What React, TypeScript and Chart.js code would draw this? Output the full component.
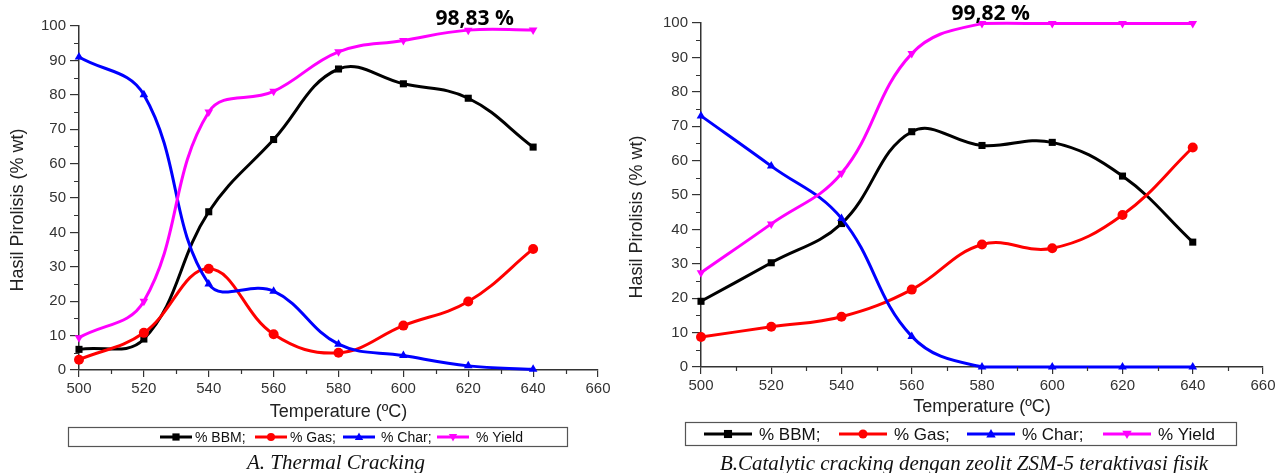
import React, { useEffect, useRef } from "react";
import { Chart, registerables } from "chart.js";

Chart.register(...registerables);

// ---------- data ----------
const temperatures = [500, 520, 540, 560, 580, 600, 620, 640];

const thermalBBM = [6, 9, 46, 67, 87.5, 83.2, 79, 64.8];
const thermalGas = [3, 10.8, 29.4, 10.4, 5, 12.9, 19.9, 35.2];
const thermalChar = [91, 80, 25, 22.9, 7.5, 4.2, 1.2, 0.2];
const thermalYield = [9.4, 20, 75, 81, 92.5, 95.8, 98.8, 98.83];

const catalyticBBM = [19.1, 30.3, 41.7, 68.4, 64.4, 65.3, 55.5, 36.3];
const catalyticGas = [8.7, 11.7, 14.6, 22.5, 35.6, 34.5, 44.2, 63.8];
const catalyticChar = [73, 58.4, 43.2, 8.9, 0, 0, 0, 0];
const catalyticYield = [27.4, 41.6, 56.3, 91.1, 99.82, 99.82, 99.82, 99.82];

const seriesNames = ["% BBM;", "% Gas;", "% Char;", "% Yield"];
const seriesColors = ["#000000", "#ff0000", "#0000ff", "#ff00ff"];
const seriesMarkers = ["rect", "circle", "triangle", "triangle"];
const markerRotations = [0, 0, 0, 180];

const xMin = 500;
const xMax = 660;
const xStep = 20;
const yMin = 0;
const yMax = 100;
const yStep = 10;

const xTitle = "Temperature (ºC)";
const yTitle = "Hasil Pirolisis (% wt)";
const thermalNote = "98,83 %";
const catalyticNote = "99,82 %";
const thermalCaption = "A. Thermal Cracking";
const catalyticCaption = "B.Catalytic cracking dengan zeolit ZSM-5 teraktivasi fisik";

// ---------- styles ----------
const SANS = "'Liberation Sans', Arial, sans-serif";
const AXIS = "#333333";

function drawMarker(ctx: CanvasRenderingContext2D, kind: string, rot: number, x: number, y: number, r: number, color: string) {
  ctx.save();
  ctx.fillStyle = color;
  ctx.translate(x, y);
  ctx.rotate((rot * Math.PI) / 180);
  ctx.beginPath();
  if (kind === "rect") {
    const s = r * 0.9;
    ctx.rect(-s, -s, 2 * s, 2 * s);
  } else if (kind === "circle") {
    ctx.arc(0, 0, r, 0, Math.PI * 2);
  } else {
    ctx.moveTo(0, -r * 1.1);
    ctx.lineTo(r * 1.05, r * 0.75);
    ctx.lineTo(-r * 1.05, r * 0.75);
    ctx.closePath();
  }
  ctx.fill();
  ctx.restore();
}

const decorPlugin = {
  id: "decor",
  afterDraw(chart: any, _args: any, opts: any) {
    const ctx: CanvasRenderingContext2D = chart.ctx;
    const xs = chart.scales.x;
    const ys = chart.scales.y;
    const area = chart.chartArea;
    ctx.save();
    // minor ticks
    ctx.strokeStyle = AXIS;
    ctx.lineWidth = 1.2;
    ctx.beginPath();
    for (let v = xMin + xStep / 2; v < xMax; v += xStep) {
      const px = Math.round(xs.getPixelForValue(v)) + 0.5;
      ctx.moveTo(px, area.bottom);
      ctx.lineTo(px, area.bottom + 4);
    }
    for (let v = yMin + yStep / 2; v < yMax; v += yStep) {
      const py = Math.round(ys.getPixelForValue(v)) + 0.5;
      ctx.moveTo(area.left, py);
      ctx.lineTo(area.left - 5, py);
    }
    ctx.stroke();

    // y axis title
    ctx.save();
    ctx.fillStyle = "#222";
    ctx.font = `${opts.yTitleSize}px ${SANS}`;
    ctx.textAlign = "center";
    ctx.textBaseline = "middle";
    ctx.translate(opts.yTitleX, opts.yTitleY);
    ctx.rotate(-Math.PI / 2);
    ctx.fillText(yTitle, 0, 0);
    ctx.restore();

    // annotation
    ctx.fillStyle = "#000";
    ctx.font = `bold ${opts.noteSize}px 'Open Sans', sans-serif`;
    ctx.textAlign = "center";
    ctx.textBaseline = "middle";
    ctx.fillText(opts.note, xs.getPixelForValue(opts.noteX), opts.noteY);

    // legend box
    const lg = opts.legend;
    ctx.strokeStyle = "#555";
    ctx.lineWidth = 1.2;
    ctx.strokeRect(lg.x + 0.5, lg.y + 0.5, lg.w, lg.h);
    const cy = lg.y + lg.h / 2 + 0.5;
    ctx.font = `${lg.size}px ${SANS}`;
    ctx.textAlign = "left";
    ctx.textBaseline = "middle";
    for (let i = 0; i < seriesNames.length; i++) {
      const e = lg.entries[i];
      ctx.strokeStyle = seriesColors[i];
      ctx.lineWidth = lg.lineWidth;
      ctx.beginPath();
      ctx.moveTo(e[0], cy);
      ctx.lineTo(e[0] + lg.lineLen, cy);
      ctx.stroke();
      drawMarker(ctx, seriesMarkers[i], markerRotations[i], e[0] + lg.lineLen / 2, cy, lg.marker, seriesColors[i]);
      ctx.fillStyle = "#111";
      ctx.fillText(seriesNames[i], e[1], cy + 1);
    }
    ctx.restore();
  },
};

function makeConfig(series: number[][], p: any) {
  return {
    type: "line",
    data: {
      datasets: series.map((vals, i) => ({
        label: seriesNames[i],
        data: temperatures.map((t, j) => ({ x: t, y: vals[j] })),
        borderColor: seriesColors[i],
        backgroundColor: seriesColors[i],
        borderWidth: p.lineWidth,
        pointStyle: seriesMarkers[i],
        pointRotation: markerRotations[i],
        pointRadius: p.pointRadius,
        pointBorderWidth: 0,
        tension: 0.4,
        clip: false,
        order: series.length - i,
      })),
    },
    options: {
      responsive: true,
      maintainAspectRatio: false,
      animation: false,
      events: [],
      layout: { padding: { top: p.top, right: p.right, bottom: p.bottom, left: 0 } },
      plugins: {
        legend: { display: false },
        tooltip: { enabled: false },
        decor: p.decor,
      },
      scales: {
        x: {
          type: "linear",
          min: xMin,
          max: xMax,
          ticks: {
            stepSize: xStep,
            autoSkip: false,
            maxRotation: 0,
            color: AXIS,
            padding: 3,
            font: { family: SANS, size: p.tickSize },
          },
          grid: { drawOnChartArea: false, drawTicks: true, tickLength: 7, color: AXIS, lineWidth: 1.2 },
          border: { display: true, color: AXIS, width: 1.5 },
          title: {
            display: true,
            text: xTitle,
            color: "#222",
            padding: { top: 0, bottom: 0 },
            font: { family: SANS, size: p.xTitleSize },
          },
          afterFit: (s: any) => {
            s.height = p.xHeight;
          },
        },
        y: {
          type: "linear",
          min: yMin,
          max: yMax,
          ticks: {
            stepSize: yStep,
            color: AXIS,
            padding: 4,
            font: { family: SANS, size: p.tickSize },
          },
          grid: { drawOnChartArea: false, drawTicks: true, tickLength: 9, color: AXIS, lineWidth: 1.2 },
          border: { display: true, color: AXIS, width: 1.5 },
          title: { display: false },
          afterFit: (s: any) => {
            s.width = p.yWidth;
          },
        },
      },
    },
    plugins: [decorPlugin],
  };
}

function ChartBox(props: { series: number[][]; params: any; style: React.CSSProperties }) {
  const ref = useRef<HTMLCanvasElement | null>(null);
  useEffect(() => {
    if (!ref.current) return;
    const chart = new Chart(ref.current, makeConfig(props.series, props.params) as any);
    return () => chart.destroy();
  }, []);
  return (
    <div style={{ position: "absolute", ...props.style }}>
      <canvas ref={ref} />
    </div>
  );
}

const thermalParams = {
  top: 26,
  right: 42,
  bottom: 29,
  xHeight: 53,
  yWidth: 79,
  tickSize: 15,
  xTitleSize: 18,
  lineWidth: 3,
  pointRadius: 5,
  decor: {
    yTitleX: 18,
    yTitleY: 210,
    yTitleSize: 18,
    note: thermalNote,
    noteX: 622,
    noteY: 19,
    noteSize: 21,
    legend: {
      x: 68,
      y: 427,
      w: 499,
      h: 19,
      size: 14,
      lineLen: 32,
      lineWidth: 3,
      marker: 4,
      entries: [
        [160, 195],
        [255, 290],
        [343, 381],
        [437, 476],
      ],
    },
  },
};

const catalyticParams = {
  top: 23,
  right: 19,
  bottom: 34,
  xHeight: 51,
  yWidth: 81,
  tickSize: 15,
  xTitleSize: 18,
  lineWidth: 3,
  pointRadius: 5,
  decor: {
    yTitleX: 17,
    yTitleY: 217,
    yTitleSize: 18,
    note: catalyticNote,
    noteX: 582.5,
    noteY: 14,
    noteSize: 21,
    legend: {
      x: 65,
      y: 422,
      w: 551,
      h: 23,
      size: 17,
      lineLen: 48,
      lineWidth: 3,
      marker: 4.5,
      entries: [
        [84, 139],
        [219, 274],
        [347, 402],
        [483, 538],
      ],
    },
  },
};

export default function App() {
  const captionStyle: React.CSSProperties = {
    position: "absolute",
    fontFamily: "'Liberation Serif', 'Times New Roman', serif",
    fontStyle: "italic",
    fontSize: 21,
    lineHeight: "24px",
    textAlign: "center",
    color: "#111",
    whiteSpace: "nowrap",
  };
  return (
    <div style={{ position: "absolute", left: 0, top: 0, width: 1282, height: 473, background: "#fff", overflow: "hidden" }}>
      <ChartBox
        series={[thermalBBM, thermalGas, thermalChar, thermalYield]}
        params={thermalParams}
        style={{ left: 0, top: 0, width: 640, height: 452 }}
      />
      <ChartBox
        series={[catalyticBBM, catalyticGas, catalyticChar, catalyticYield]}
        params={catalyticParams}
        style={{ left: 620, top: 0, width: 662, height: 452 }}
      />
      <div style={{ ...captionStyle, left: 136, width: 400, top: 450 }}>{thermalCaption}</div>
      <div style={{ ...captionStyle, left: 664, width: 600, top: 451 }}>{catalyticCaption}</div>
    </div>
  );
}
